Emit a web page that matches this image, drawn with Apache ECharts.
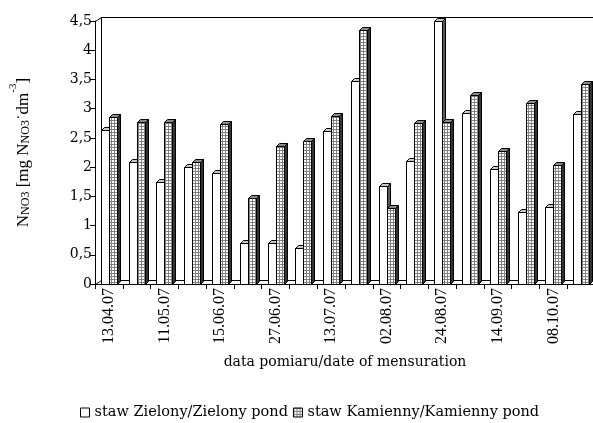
<!DOCTYPE html>
<html>
<head>
<meta charset="utf-8">
<script src="https://cdn.jsdelivr.net/npm/echarts@6/dist/echarts.min.js"></script>
<style>
  html, body { margin: 0; padding: 0; background: #fff; }
  #chart { width: 593px; height: 423px; }
</style>
</head>
<body>
<div id="chart"></div>
<script>
// measurement dates (only every other one is printed on the axis)
const dates = ['13.04.07', '', '11.05.07', '', '15.06.07', '', '27.06.07', '', '13.07.07', '',
  '02.08.07', '', '24.08.07', '', '14.09.07', '', '08.10.07', '']
const zielony = [2.64, 2.08, 1.74, 2.01, 1.90, 0.71, 0.71, 0.61, 2.61, 3.48, 1.68, 2.11, 4.50, 2.92, 1.96, 1.24, 1.31, 2.91]
const kamienny = [2.86, 2.78, 2.78, 2.09, 2.74, 1.47, 2.36, 2.44, 2.88, 4.34, 1.30, 2.75, 2.78, 3.24, 2.28, 3.09, 2.04, 3.42]
const seriesNames = ['staw Zielony/Zielony pond', 'staw Kamienny/Kamienny pond']

// the picture is stretched sideways, so horizontal text uses a wider serif
const WIDE = '"DejaVu Serif", "Liberation Serif", serif'
const SERIF = '"Liberation Serif", "Times New Roman", serif'

// dotted fill like the excel pattern
const pat = document.createElement('canvas')
pat.width = 3
pat.height = 3
const pctx = pat.getContext('2d')
pctx.fillStyle = '#ffffff'
pctx.fillRect(0, 0, 3, 3)
pctx.fillStyle = '#808080'
pctx.fillRect(0, 0, 3, 1)
pctx.fillRect(0, 0, 1, 3)
const dotted = { image: pat, repeat: 'repeat' }

const styles = [
  { front: '#ffffff', top: '#c8c8c8', side: '#5a5a5a' },
  { front: dotted, top: '#8a8a8a', side: '#333333' }
]

const chart = echarts.init(document.getElementById('chart'))

const px = v => Math.round(v) + 0.5

function barRenderer (k) {
  return function (params, api) {
    const idx = api.value(0)
    const top = api.coord([idx, api.value(1)])
    const base = api.coord([idx, 0])
    const bw = Math.round(api.size([1, 0])[0] * 0.29)
    const d = 3
    const x = px(k === 0 ? top[0] - bw : top[0])
    const y = px(top[1])
    const b = px(base[1])
    const st = styles[k]
    const line = { stroke: '#000', lineWidth: 1 }
    return {
      type: 'group',
      children: [
        {
          type: 'polygon',
          shape: { points: [[x + bw, y], [x + bw + d, y - d], [x + bw + d, b - d], [x + bw, b]] },
          style: Object.assign({ fill: st.side }, line)
        },
        {
          type: 'polygon',
          shape: { points: [[x, y], [x + d, y - d], [x + bw + d, y - d], [x + bw, y]] },
          style: Object.assign({ fill: st.top }, line)
        },
        {
          type: 'rect',
          shape: { x: x, y: y, width: bw, height: b - y },
          style: Object.assign({ fill: st.front }, line)
        }
      ]
    }
  }
}

// back wall and floor of the 3d frame
function wallRenderer (params, api) {
  const cs = params.coordSys
  const x0 = px(cs.x)
  const yt = px(cs.y)
  const yb = px(cs.y + cs.height)
  const xr = cs.x + cs.width + 10
  const dx = 6
  const dy = 4
  const line = { stroke: '#000', lineWidth: 1, fill: null }
  return {
    type: 'group',
    children: [
      { type: 'polyline', shape: { points: [[x0, yt], [x0 + dx, yt - dy], [xr, yt - dy]] }, style: line },
      { type: 'polyline', shape: { points: [[x0 + dx, yt - dy], [x0 + dx, yb - dy], [xr, yb - dy]] }, style: line },
      { type: 'polyline', shape: { points: [[x0, yb], [x0 + dx, yb - dy]] }, style: line }
    ]
  }
}

const option = {
  animation: false,
  backgroundColor: '#fff',
  grid: {
    left: 95,
    top: 21,
    width: 500,
    height: 263,
    outerBoundsMode: 'none'
  },
  legend: {
    top: 405,
    left: 80,
    padding: 0,
    itemWidth: 9,
    itemHeight: 9,
    itemGap: 5,
    selectedMode: false,
    textStyle: { fontFamily: WIDE, fontSize: 14.5, color: '#000' },
    data: [
      { name: seriesNames[0], icon: 'rect', itemStyle: { color: '#fff', borderColor: '#000', borderWidth: 1 } },
      { name: seriesNames[1], icon: 'rect', itemStyle: { color: dotted, borderColor: '#000', borderWidth: 1 } }
    ]
  },
  xAxis: {
    type: 'category',
    data: dates,
    boundaryGap: true,
    name: 'data pomiaru/date of mensuration',
    nameLocation: 'middle',
    nameGap: 71,
    nameTextStyle: { fontFamily: WIDE, fontSize: 14, color: '#000' },
    axisLine: { lineStyle: { color: '#000', width: 1 } },
    axisTick: { show: true, interval: 0, length: 5, lineStyle: { color: '#000' } },
    axisLabel: {
      interval: 1,
      rotate: 90,
      margin: 4,
      fontFamily: SERIF,
      fontSize: 16,
      color: '#000'
    },
    splitLine: { show: false }
  },
  yAxis: {
    type: 'value',
    min: 0,
    max: 4.5,
    interval: 0.5,
    name: '{n|N}{s|NO3}{n| [mg N}{s|NO3}{n|˙dm}{p|-3}{n|]}',
    nameLocation: 'middle',
    nameRotate: 90,
    nameGap: 63,
    nameTextStyle: {
      color: '#000',
      rich: {
        n: { fontFamily: SERIF, fontSize: 17, color: '#000', lineHeight: 20, verticalAlign: 'bottom' },
        s: { fontFamily: SERIF, fontSize: 12, color: '#000', lineHeight: 15, verticalAlign: 'bottom' },
        p: { fontFamily: SERIF, fontSize: 11, color: '#000', lineHeight: 24, verticalAlign: 'top' }
      }
    },
    axisLine: { show: true, lineStyle: { color: '#000', width: 1 } },
    axisTick: { show: true, length: 5, lineStyle: { color: '#000' } },
    axisLabel: {
      margin: 3,
      fontFamily: WIDE,
      fontSize: 14,
      color: '#000',
      formatter: v => String(v).replace('.', ',')
    },
    splitLine: { show: false }
  },
  series: [
    {
      type: 'custom',
      name: 'wall',
      renderItem: wallRenderer,
      data: [[0, 0]],
      silent: true,
      clip: false,
      z: 1
    },
    {
      type: 'custom',
      name: seriesNames[0],
      renderItem: barRenderer(0),
      encode: { x: 0, y: 1 },
      data: zielony.map((v, i) => [i, v]),
      clip: false,
      z: 2
    },
    {
      type: 'custom',
      name: seriesNames[1],
      renderItem: barRenderer(1),
      encode: { x: 0, y: 1 },
      data: kamienny.map((v, i) => [i, v]),
      clip: false,
      z: 3
    }
  ]
}

chart.setOption(option)
</script>
</body>
</html>
